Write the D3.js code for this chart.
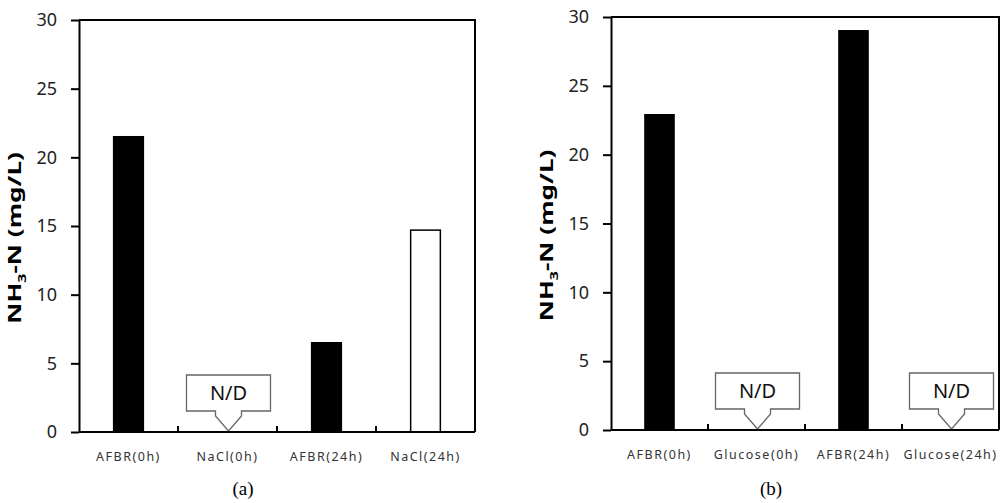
<!DOCTYPE html>
<html lang="en">
<head>
    <meta charset="UTF-8">
    <title>NH3-N bars</title>
    <style>
        body { margin: 0; background: #fff; }
        svg { display: block; }
        .tick-num { font-family: "Noto Sans", sans-serif; font-size: 18px; fill: #222; }
        .cat-label { font-family: "Noto Sans", sans-serif; font-size: 12.5px; fill: #333; letter-spacing: 1.5px; }
        .nd-text { font-family: "Noto Sans", sans-serif; font-size: 20px; fill: #111; }
        .y-title { font-family: "Noto Sans", sans-serif; font-size: 18px; font-weight: bold; fill: #000; }
        .caption { font-family: "Liberation Serif", "DejaVu Serif", serif; font-size: 19px; fill: #000; }
    </style>
    <script src="https://d3js.org/d3.v7.min.js"></script>
</head>
<body>
<script>
// panel (a) data, null = not detected
const categoriesA = ["AFBR(0h)", "NaCl(0h)", "AFBR(24h)", "NaCl(24h)"];
const valuesA = [21.5, null, 6.5, 14.7];

// panel (b) data
const categoriesB = ["AFBR(0h)", "Glucose(0h)", "AFBR(24h)", "Glucose(24h)"];
const valuesB = [22.9, null, 29.0, null];

const yTicks = [0, 5, 10, 15, 20, 25, 30];
const panelCaptions = ["(a)", "(b)"];

var svg = d3.select("body").append("svg")
    .attr("width", 1001)
    .attr("height", 503);

function drawPanel(cats, vals, caption, box) {
    var g = svg.append("g");

    var x = d3.scaleBand().domain(cats).range([box.left, box.right]).paddingInner(0).paddingOuter(0);
    var y = d3.scaleLinear().domain([0, 30]).range([box.bottom, box.top]);
    var barW = x.bandwidth() * 0.3;

    // bars (AFBR black, the other treatment white)
    var rows = cats.map((c, i) => ({ cat: c, val: vals[i] }));
    g.selectAll(".bar")
        .data(rows.filter(d => d.val !== null))
        .enter().append("rect")
        .attr("class", "bar")
        .attr("x", d => x(d.cat) + x.bandwidth() / 2 - barW / 2)
        .attr("y", d => y(d.val))
        .attr("width", barW)
        .attr("height", d => y(0) - y(d.val))
        .attr("fill", d => d.cat.startsWith("AFBR") ? "#000" : "#fff")
        .attr("stroke", "#000")
        .attr("stroke-width", 1.5);

    // N/D callouts
    rows.filter(d => d.val === null).forEach(function (d) {
        var cx = x(d.cat) + x.bandwidth() / 2 + 1;
        var y0 = y(0) - 1;
        var bt = y0 - 56, bb = y0 - 20;
        var pts = [
            [cx - 42, bt], [cx + 42, bt], [cx + 42, bb], [cx + 13, bb],
            [cx + 13, bb + 5], [cx, y0], [cx - 13, bb + 5], [cx - 13, bb],
            [cx - 42, bb]
        ];
        g.append("path")
            .attr("d", d3.line()(pts) + "Z")
            .attr("fill", "#fff")
            .attr("stroke", "#666")
            .attr("stroke-width", 1.3);
        g.append("text")
            .attr("class", "nd-text")
            .attr("x", cx)
            .attr("y", (bt + bb) / 2 + 7)
            .attr("text-anchor", "middle")
            .text("N/D");
    });

    // frame: top and right
    g.append("path")
        .attr("d", `M${box.left},${box.top}H${box.right}V${box.bottom}`)
        .attr("fill", "none")
        .attr("stroke", "#000")
        .attr("stroke-width", 2);

    // y axis
    var yAxis = g.append("g")
        .attr("transform", `translate(${box.left},0)`)
        .call(d3.axisLeft(y).tickValues(yTicks).tickSize(8).tickPadding(14).tickSizeOuter(0));
    yAxis.select(".domain").attr("stroke", "#000").attr("stroke-width", 2);
    yAxis.selectAll(".tick line").attr("stroke", "#000").attr("stroke-width", 2);
    yAxis.selectAll(".tick text").attr("class", "tick-num").attr("font-size", null).attr("font-family", null);

    // x axis line with small inner tick marks at category boundaries
    g.append("line")
        .attr("x1", box.left).attr("x2", box.right)
        .attr("y1", box.bottom).attr("y2", box.bottom)
        .attr("stroke", "#000").attr("stroke-width", 2);
    g.selectAll(".sep")
        .data(cats.slice(1))
        .enter().append("line")
        .attr("x1", d => x(d)).attr("x2", d => x(d))
        .attr("y1", box.bottom).attr("y2", box.bottom - 6)
        .attr("stroke", "#000").attr("stroke-width", 2);

    g.selectAll(".cat-label")
        .data(cats)
        .enter().append("text")
        .attr("class", "cat-label")
        .attr("x", d => x(d) + x.bandwidth() / 2)
        .attr("y", box.bottom + 29)
        .attr("text-anchor", "middle")
        .text(d => d);

    // y title with subscript, stretched along its length like the source
    var yt = g.append("text")
        .attr("class", "y-title")
        .attr("transform", `translate(${box.left - 58},${(box.top + box.bottom) / 2 + 12}) rotate(-90) scale(1.45,1)`)
        .attr("text-anchor", "middle");
    yt.append("tspan").text("NH");
    yt.append("tspan").attr("dy", 5).attr("font-size", "11px").text("3");
    yt.append("tspan").attr("dy", -5).text("-N (mg/L)");

    g.append("text")
        .attr("class", "caption")
        .attr("x", (box.left + box.right) / 2 - 34)
        .attr("y", 495)
        .attr("text-anchor", "middle")
        .text(caption);
}

drawPanel(categoriesA, valuesA, panelCaptions[0], { left: 79, right: 475, top: 20, bottom: 432 });
drawPanel(categoriesB, valuesB, panelCaptions[1], { left: 611, right: 999, top: 17, bottom: 430 });
</script>
</body>
</html>
